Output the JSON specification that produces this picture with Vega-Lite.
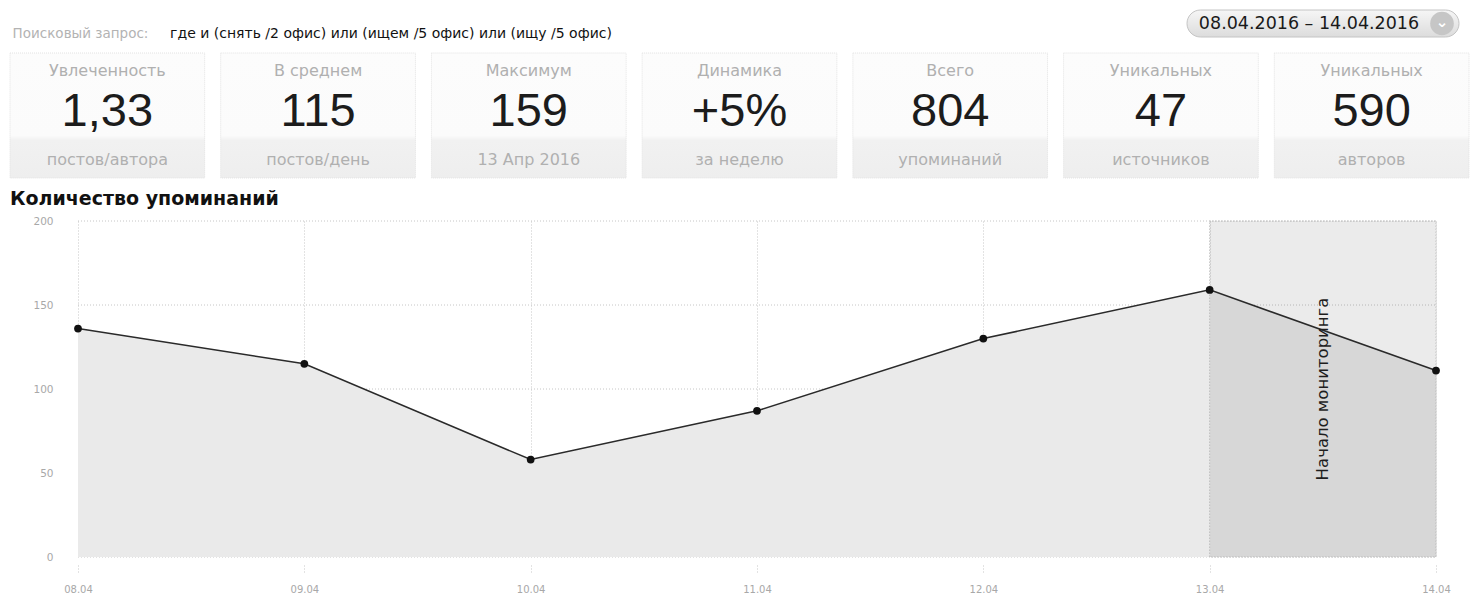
{
  "$schema": "https://vega.github.io/schema/vega-lite/v6.json",
  "background": "white",
  "padding": {"left": 9, "top": 9, "right": 2, "bottom": 0},
  "config": {"view": {"stroke": null}, "font": "DejaVu Sans"},
  "datasets": {
    "header": [{"label": "Поисковый запрос:", "query": "где и (снять /2 офис) или (ищем /5 офис) или (ищу /5 офис)", "range": "08.04.2016 – 14.04.2016", "button": "⌄"}],
    "cards": [
      {"card": 1, "top": "Увлеченность", "big": "1,33", "bottom": "постов/автора"},
      {"card": 2, "top": "В среднем", "big": "115", "bottom": "постов/день"},
      {"card": 3, "top": "Максимум", "big": "159", "bottom": "13 Апр 2016"},
      {"card": 4, "top": "Динамика", "big": "+5%", "bottom": "за неделю"},
      {"card": 5, "top": "Всего", "big": "804", "bottom": "упоминаний"},
      {"card": 6, "top": "Уникальных", "big": "47", "bottom": "источников"},
      {"card": 7, "top": "Уникальных", "big": "590", "bottom": "авторов"}
    ],
    "mentions": [
      {"date": "2016-04-08T00:00:00", "n": 136},
      {"date": "2016-04-09T00:00:00", "n": 115},
      {"date": "2016-04-10T00:00:00", "n": 58},
      {"date": "2016-04-11T00:00:00", "n": 87},
      {"date": "2016-04-12T00:00:00", "n": 130},
      {"date": "2016-04-13T00:00:00", "n": 159},
      {"date": "2016-04-14T00:00:00", "n": 111}
    ],
    "levels": [{"v": 0}, {"v": 50}, {"v": 100}, {"v": 150}, {"v": 200}],
    "zone": [{"start": "2016-04-13T00:00:00", "end": "2016-04-14T00:00:00", "mid": "2016-04-13T12:00:00", "level": 100, "label": "Начало мониторинга"}]
  },
  "spacing": 11,
  "vconcat": [
    {
      "spacing": 11,
      "vconcat": [
        {
          "spacing": 570,
          "hconcat": [
            {
              "spacing": 15,
              "hconcat": [
                {
                  "width": 141, "height": 26,
                  "data": {"name": "header"},
                  "mark": {"type": "text", "fontSize": 13.5, "color": "#b3b3b3", "dy": 11},
                  "encoding": {"text": {"field": "label"}}
                },
                {
                  "width": 450, "height": 26,
                  "data": {"name": "header"},
                  "mark": {"type": "text", "fontSize": 14, "color": "#111111", "dy": 11},
                  "encoding": {"text": {"field": "query"}}
                }
              ]
            },
            {
              "width": 272, "height": 27,
              "data": {"name": "header"},
              "layer": [
                {
                  "mark": {"type": "rect", "cornerRadius": 13.5, "stroke": "#c4c4c4", "strokeWidth": 1,
                    "fill": {"gradient": "linear", "x1": 0, "y1": 0, "x2": 0, "y2": 1, "stops": [{"offset": 0, "color": "#f6f6f6"}, {"offset": 1, "color": "#dcdcdc"}]}},
                  "encoding": {}
                },
                {
                  "mark": {"type": "text", "fontSize": 17.5, "color": "#1a1a1a", "dx": -14},
                  "encoding": {"text": {"field": "range"}}
                },
                {
                  "mark": {"type": "point", "filled": true, "color": "#c6c6c6", "size": 560, "opacity": 1},
                  "encoding": {"x": {"datum": 0.9375, "type": "quantitative", "scale": {"domain": [0, 1]}, "axis": null}}
                },
                {
                  "mark": {"type": "text", "fontSize": 15, "fontWeight": "bold", "color": "white", "dy": -2},
                  "encoding": {"x": {"datum": 0.9375, "type": "quantitative", "scale": {"domain": [0, 1]}, "axis": null}, "text": {"field": "button"}}
                }
              ]
            }
          ]
        },
        {
          "width": 1459, "height": 125,
          "data": {"name": "cards"},
          "encoding": {
            "x": {"field": "card", "type": "ordinal", "axis": null, "scale": {"paddingInner": 0.076, "paddingOuter": 0}}
          },
          "layer": [
            {
              "mark": {"type": "rect", "stroke": "#e2e2e2", "strokeWidth": 1, "strokeDash": [1, 1],
                "fill": {"gradient": "linear", "x1": 0, "y1": 0, "x2": 0, "y2": 1, "stops": [{"offset": 0, "color": "#fcfcfc"}, {"offset": 0.66, "color": "#fbfbfb"}, {"offset": 0.7, "color": "#f1f1f1"}, {"offset": 1, "color": "#eeeeee"}]}}
            },
            {
              "mark": {"type": "text", "fontSize": 16, "color": "#b0b0b0", "baseline": "middle"},
              "encoding": {
                "y": {"datum": "top", "type": "nominal", "scale": {"type": "point", "padding": 0, "domain": ["top", "big", "bottom"], "range": [18, 107]}, "axis": null},
                "text": {"field": "top"}
              }
            },
            {
              "mark": {"type": "text", "fontSize": 47, "font": "Liberation Sans", "color": "#1c1c1c", "baseline": "middle", "dy": -4},
              "encoding": {
                "y": {"datum": "big", "type": "nominal"},
                "text": {"field": "big"}
              }
            },
            {
              "mark": {"type": "text", "fontSize": 16, "color": "#b0b0b0", "baseline": "middle"},
              "encoding": {
                "y": {"datum": "bottom", "type": "nominal"},
                "text": {"field": "bottom"}
              }
            }
          ]
        }
      ]
    },
    {
      "width": 1426, "height": 336,
      "title": {"text": "Количество упоминаний", "anchor": "start", "fontSize": 19, "fontWeight": "bold", "color": "#111111", "font": "DejaVu Sans", "offset": 7},
      "layer": [
        {
          "data": {"name": "levels"},
          "mark": {"type": "rule", "color": "#c6c6c6", "strokeDash": [1, 2], "strokeWidth": 1},
          "encoding": {
            "y": {"field": "v", "type": "quantitative"},
            "x": {"datum": {"year": 2016, "month": 4, "date": 8}, "type": "temporal"},
            "x2": {"datum": {"year": 2016, "month": 4, "date": 14}}
          }
        },
        {
          "data": {"name": "mentions"},
          "mark": {"type": "area", "color": "#eaeaea", "opacity": 1},
          "encoding": {
            "x": {"field": "date", "type": "temporal", "scale": {"nice": false, "range": [68, 1426]},
              "axis": {"format": "%d.%m", "tickCount": {"interval": "day", "step": 1}, "title": null, "domain": false,
                "grid": true, "gridDash": [1, 2], "gridColor": "#c6c6c6",
                "ticks": true, "tickSize": 8, "tickDash": [1, 2], "tickColor": "#c6c6c6", "offset": 8,
                "labelPadding": 11, "labelFontSize": 10, "labelColor": "#a8a8a8", "labelFlush": false}},
            "y": {"field": "n", "type": "quantitative", "scale": {"domain": [0, 200], "nice": false},
              "axis": {"values": [0, 50, 100, 150, 200], "title": null, "domain": false, "ticks": false,
                "grid": false, "offset": -68,
                "labelPadding": 25, "labelFontSize": 10.5, "labelColor": "#a8a8a8", "labelFlush": false, "minExtent": 0}}
          }
        },
        {
          "data": {"name": "zone"},
          "mark": {"type": "rect", "fill": "#000000", "fillOpacity": 0.08, "stroke": "#aaaaaa", "strokeDash": [1, 2], "strokeWidth": 1},
          "encoding": {
            "x": {"field": "start", "type": "temporal"},
            "x2": {"field": "end"}
          }
        },
        {
          "data": {"name": "mentions"},
          "mark": {"type": "line", "color": "#2a2a2a", "strokeWidth": 1.5},
          "encoding": {
            "x": {"field": "date", "type": "temporal"},
            "y": {"field": "n", "type": "quantitative"}
          }
        },
        {
          "data": {"name": "mentions"},
          "mark": {"type": "point", "filled": true, "color": "#111111", "size": 60, "opacity": 1},
          "encoding": {
            "x": {"field": "date", "type": "temporal"},
            "y": {"field": "n", "type": "quantitative"}
          }
        },
        {
          "data": {"name": "zone"},
          "mark": {"type": "text", "angle": 270, "fontSize": 16.5, "color": "#1e1e1e", "baseline": "middle", "align": "center"},
          "encoding": {
            "x": {"field": "mid", "type": "temporal"},
            "y": {"field": "level", "type": "quantitative"},
            "text": {"field": "label"}
          }
        }
      ]
    }
  ]
}
